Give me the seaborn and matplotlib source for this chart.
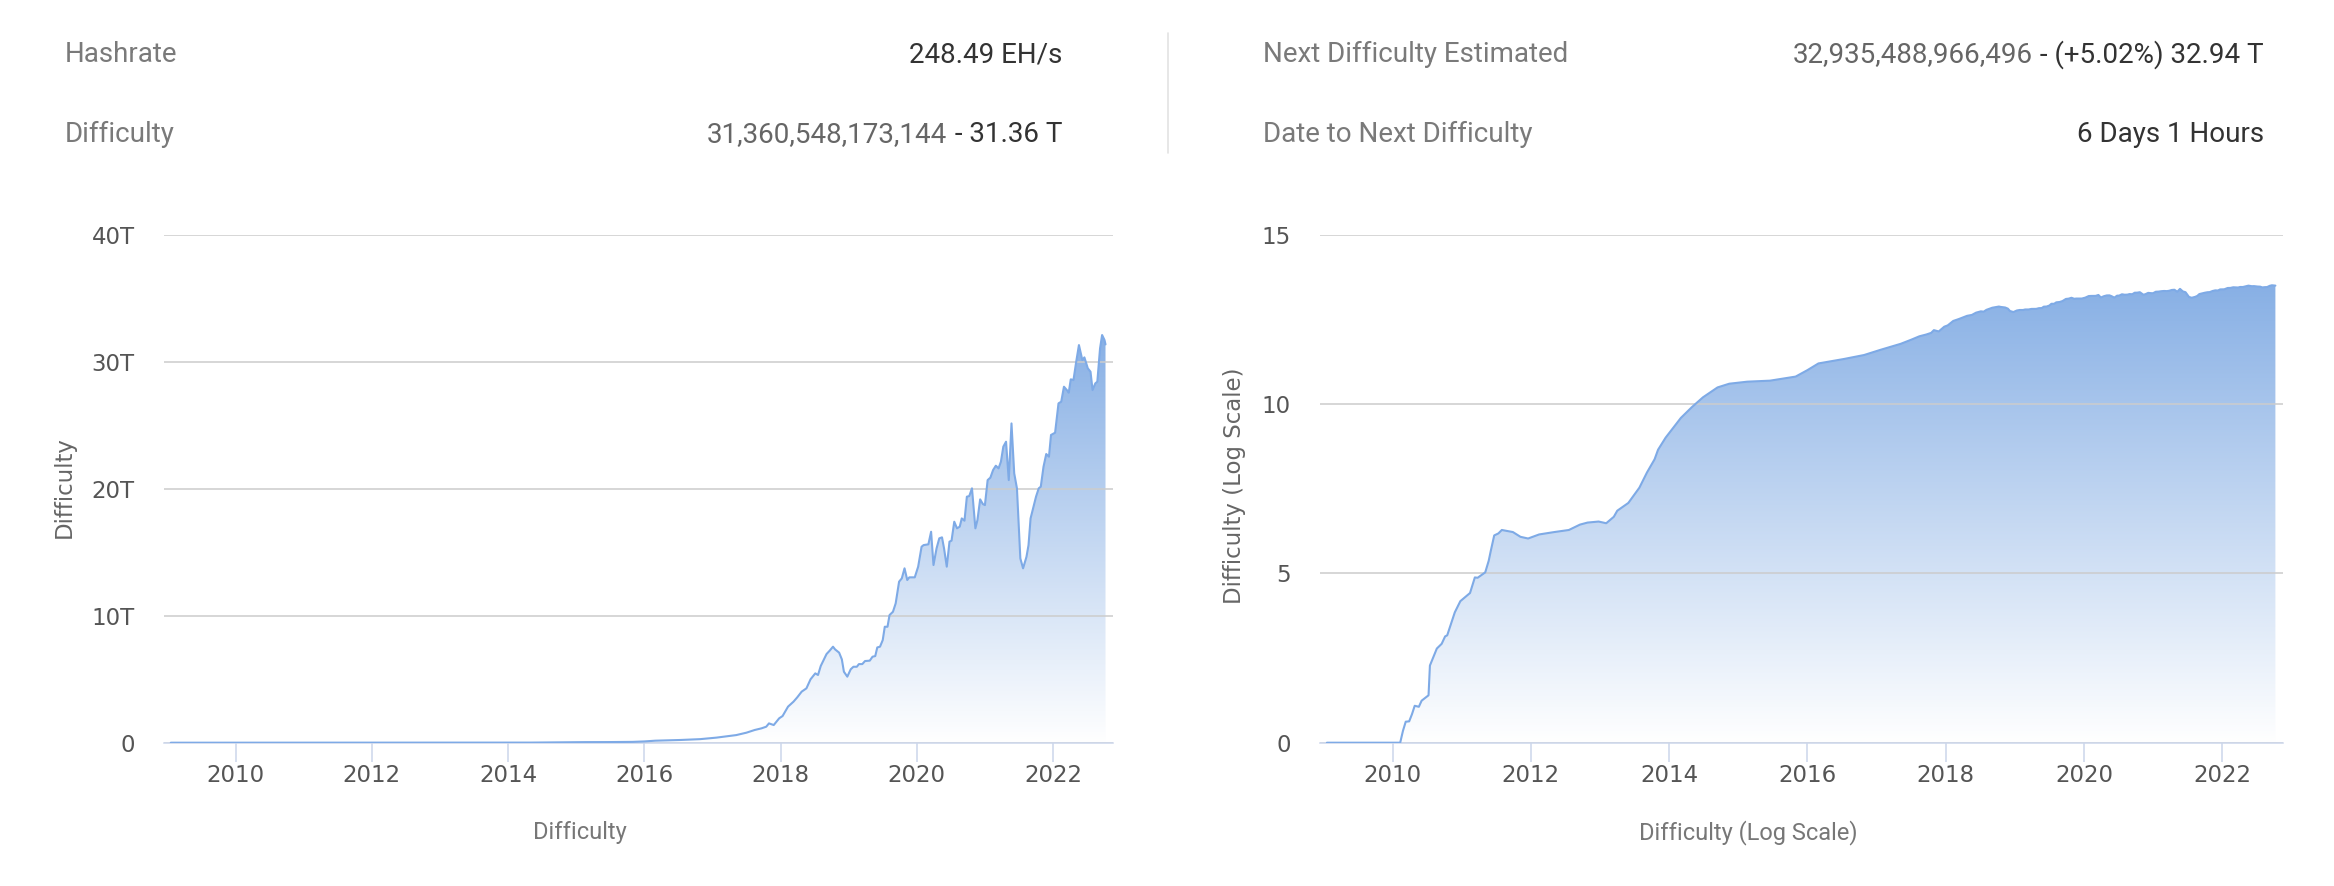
import numpy as np
import pandas as pd
import matplotlib
matplotlib.use("Agg")
import matplotlib.pyplot as plt
import seaborn as sns
from matplotlib.colors import LinearSegmentedColormap
from matplotlib.patches import Polygon

# datos (año decimal, dificultad)
years = [
    2009.05, 2009.50, 2010.11, 2010.15, 2010.19, 2010.24, 2010.28, 2010.32, 2010.38, 2010.42,
    2010.52, 2010.54, 2010.64, 2010.71, 2010.76, 2010.79, 2010.90, 2010.98, 2011.12, 2011.19,
    2011.23, 2011.34, 2011.39, 2011.42, 2011.47, 2011.53, 2011.58, 2011.74, 2011.85, 2011.96,
    2012.12, 2012.34, 2012.55, 2012.71, 2012.82, 2012.98, 2013.09, 2013.20, 2013.25, 2013.41,
    2013.57, 2013.68, 2013.79, 2013.84, 2013.95, 2014.17, 2014.33, 2014.49, 2014.70, 2014.87,
    2015.13, 2015.46, 2015.83, 2016.00, 2016.16, 2016.53, 2016.82, 2017.06, 2017.35, 2017.50,
    2017.62, 2017.72, 2017.79, 2017.83, 2017.90, 2017.98, 2018.03, 2018.11, 2018.19, 2018.245,
    2018.31, 2018.38, 2018.44, 2018.51, 2018.55, 2018.59, 2018.675, 2018.72, 2018.77, 2018.80,
    2018.86, 2018.90, 2018.93, 2018.98, 2019.03, 2019.07, 2019.12, 2019.15, 2019.20, 2019.24,
    2019.31, 2019.35, 2019.39, 2019.42, 2019.46, 2019.50, 2019.53, 2019.57, 2019.60, 2019.65,
    2019.69, 2019.74, 2019.78, 2019.82, 2019.86, 2019.89, 2019.97, 2020.02, 2020.07, 2020.10,
    2020.17, 2020.21, 2020.245, 2020.29, 2020.33, 2020.37, 2020.40, 2020.44, 2020.48, 2020.51,
    2020.55, 2020.59, 2020.63, 2020.66, 2020.70, 2020.735, 2020.77, 2020.81, 2020.86, 2020.89,
    2020.93, 2020.97, 2021.00, 2021.04, 2021.08, 2021.12, 2021.16, 2021.20, 2021.235, 2021.27,
    2021.31, 2021.35, 2021.39, 2021.43, 2021.47, 2021.52, 2021.56, 2021.61, 2021.64, 2021.67,
    2021.72, 2021.75, 2021.79, 2021.82, 2021.86, 2021.90, 2021.94, 2021.97, 2022.03, 2022.08,
    2022.12, 2022.16, 2022.21, 2022.23, 2022.26, 2022.30, 2022.34, 2022.38, 2022.43, 2022.46,
    2022.51, 2022.55, 2022.58, 2022.62, 2022.65, 2022.69, 2022.72, 2022.755, 2022.77,
]
difficulty = [
    1, 1, 1, 2.24, 4.17, 4.27, 6.9, 12.3, 11.5, 17.4,
    25.1, 190, 603, 832, 1380, 1479, 7080, 15100, 26300, 75900,
    74100, 107000, 234000, 457000, 1.32e6, 1.51e6, 1.91e6, 1.66e6, 1.20e6, 1.07e6,
    1.41e6, 1.66e6, 1.91e6, 2.75e6, 3.16e6, 3.39e6, 3.02e6, 4.68e6, 7.08e6, 1.20e7,
    3.39e7, 9.55e7, 2.34e8, 4.47e8, 1.02e9, 3.89e9, 8.13e9, 1.58e10, 3.09e10, 3.98e10,
    4.57e10, 4.90e10, 6.46e10, 1.0e11, 1.58e11, 2.14e11, 2.8e11, 4.0e11, 6.0e11, 7.9e11,
    1.00e12, 1.13e12, 1.26e12, 1.52e12, 1.39e12, 1.92e12, 2.10e12, 2.84e12, 3.23e12, 3.57e12,
    4.02e12, 4.28e12, 4.99e12, 5.46e12, 5.33e12, 6.04e12, 6.98e12, 7.24e12, 7.56e12, 7.35e12,
    7.09e12, 6.56e12, 5.59e12, 5.20e12, 5.78e12, 5.98e12, 5.98e12, 6.19e12, 6.19e12, 6.43e12,
    6.46e12, 6.77e12, 6.82e12, 7.50e12, 7.56e12, 8.08e12, 9.13e12, 9.13e12, 10.05e12, 10.31e12,
    10.97e12, 12.68e12, 12.94e12, 13.73e12, 12.81e12, 13.02e12, 13.02e12, 13.86e12, 15.43e12, 15.56e12,
    15.62e12, 16.61e12, 13.99e12, 15.30e12, 16.09e12, 16.17e12, 15.30e12, 13.86e12, 15.83e12, 15.91e12,
    17.40e12, 16.88e12, 17.01e12, 17.66e12, 17.48e12, 19.37e12, 19.42e12, 20.03e12, 16.88e12, 17.53e12,
    19.16e12, 18.79e12, 18.71e12, 20.68e12, 20.87e12, 21.47e12, 21.81e12, 21.60e12, 22.13e12, 23.31e12,
    23.70e12, 20.68e12, 25.14e12, 21.21e12, 20.03e12, 14.51e12, 13.73e12, 14.64e12, 15.56e12, 17.66e12,
    18.71e12, 19.37e12, 20.03e12, 20.16e12, 21.73e12, 22.73e12, 22.52e12, 24.23e12, 24.41e12, 26.72e12,
    26.85e12, 28.03e12, 27.72e12, 27.56e12, 28.61e12, 28.56e12, 30.00e12, 31.31e12, 30.13e12, 30.34e12,
    29.48e12, 29.21e12, 27.77e12, 28.29e12, 28.43e12, 31.05e12, 32.10e12, 31.71e12, 31.36e12,
]

x_ticks = [2010, 2012, 2014, 2016, 2018, 2020, 2022]
lin_ticks = [0, 10, 20, 30, 40]
lin_tick_labels = ["0", "10T", "20T", "30T", "40T"]
log_ticks = [0, 5, 10, 15]
log_tick_labels = ["0", "5", "10", "15"]

# cabecera: (etiqueta, parte gris, parte oscura)
header_left = [
    ("Hashrate", "", "248.49 EH/s"),
    ("Difficulty", "31,360,548,173,144", " - 31.36 T"),
]
header_right = [
    ("Next Difficulty Estimated", "32,935,488,966,496", " - (+5.02%) 32.94 T"),
    ("Date to Next Difficulty", "", "6 Days 1 Hours"),
]

df = pd.DataFrame({"year": years, "difficulty": difficulty})
df["difficulty_t"] = df["difficulty"] / 1e12
df["difficulty_log"] = np.log10(df["difficulty"])

sns.set_theme(style="white")
plt.rcParams["font.family"] = ["Roboto", "DejaVu Sans"]

W, H = 2334, 886
fig = plt.figure(figsize=(W / 100, H / 100), dpi=100)

LINE = "#7eaae6"
FILL = LinearSegmentedColormap.from_list("fill", ["#ffffff", "#88b0e5"])
AXIS = "#ccd6eb"


def px(x, y):
    return x / W, 1 - y / H


def draw_panel(ax, col, ticks, labels, top):
    x = df["year"].to_numpy()
    y = df[col].to_numpy()
    grad = np.linspace(0, 1, 256).reshape(-1, 1)
    im = ax.imshow(grad, extent=[x.min(), x.max(), 0, y.max()], origin="lower",
                   aspect="auto", cmap=FILL, zorder=1)
    verts = np.column_stack([np.r_[x, x[::-1]], np.r_[y, np.zeros_like(y)]])
    patch = Polygon(verts, closed=True, facecolor="none", edgecolor="none",
                    transform=ax.transData)
    ax.add_patch(patch)
    im.set_clip_path(patch)
    sns.lineplot(data=df, x="year", y=col, ax=ax, color=LINE, linewidth=1.5, zorder=4)

    ax.set_xlim(2008.95, 2022.88)
    ax.set_ylim(0, top)
    ax.set_xticks(x_ticks)
    ax.set_xticklabels([str(t) for t in x_ticks])
    ax.set_yticks(ticks)
    ax.set_yticklabels(labels)
    ax.set_xlabel("")
    ax.set_ylabel("")
    ax.yaxis.grid(True, color="#cccccc", linewidth=1.1)
    ax.xaxis.grid(False)
    ax.set_axisbelow(False)
    for s in ["top", "left", "right"]:
        ax.spines[s].set_visible(False)
    ax.spines["bottom"].set_color(AXIS)
    ax.spines["bottom"].set_linewidth(1.1)
    ax.spines["bottom"].set_zorder(3)
    ax.tick_params(axis="x", length=13.5, width=1.1, color=AXIS, labelsize=16.5,
                   labelcolor="#555555", pad=2, bottom=True)
    ax.tick_params(axis="y", length=0, labelsize=16.5, labelcolor="#555555", pad=21)
    for lbl in ax.get_xticklabels() + ax.get_yticklabels():
        lbl.set_fontfamily("DejaVu Sans")


ax1 = fig.add_axes([164 / W, 1 - 742.7 / H, 949 / W, 508 / H])
draw_panel(ax1, "difficulty_t", lin_ticks, lin_tick_labels, 40)
ax2 = fig.add_axes([1320 / W, 1 - 742.7 / H, 963 / W, 508 / H])
draw_panel(ax2, "difficulty_log", log_ticks, log_tick_labels, 15)

# titulos de ejes
fig.text(*px(64, 487), "Difficulty", rotation=90, ha="center", va="center",
         fontsize=16.5, color="#666666", fontfamily="DejaVu Sans")
fig.text(*px(1234, 486), "Difficulty (Log Scale)", rotation=90, ha="center", va="center",
         fontsize=16.5, color="#666666", fontfamily="DejaVu Sans")
fig.text(*px(580, 833), "Difficulty", ha="center", va="center", fontsize=17, color="#777777")
fig.text(*px(1748, 833), "Difficulty (Log Scale)", ha="center", va="center",
         fontsize=17, color="#777777")

# cabecera
renderer = fig.canvas.get_renderer()


def header(rows, x_left, x_right):
    for (label, gray, dark), base in zip(rows, [62.5, 142.5]):
        fig.text(*px(x_left, base), label, ha="left", va="baseline", fontsize=20, color="#7a7a7a")
        t = fig.text(*px(x_right, base), dark, ha="right", va="baseline", fontsize=20, color="#333333")
        if gray:
            w = t.get_window_extent(renderer).width
            fig.text(*px(x_right - w, base), gray, ha="right", va="baseline",
                     fontsize=20, color="#666666")


header(header_left, 65, 1062)
header(header_right, 1263, 2264)
fig.add_artist(plt.Line2D([1168 / W, 1168 / W], [1 - 33 / H, 1 - 153 / H], color="#e3e3e3", linewidth=1.2))

fig.savefig("out.png", dpi=100, facecolor="white")
